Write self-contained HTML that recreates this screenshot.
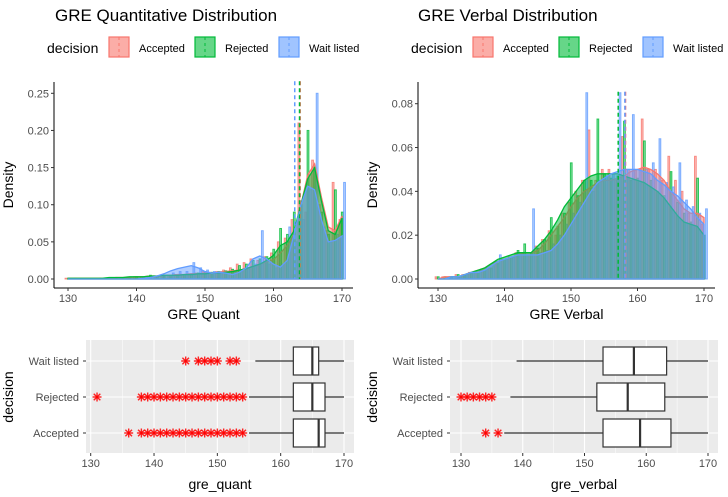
<!DOCTYPE html>
<html><head><meta charset="utf-8"><style>
body{margin:0;background:#fff}
svg{display:block;font-family:"Liberation Sans",sans-serif}
</style></head><body>
<svg id="c" width="728" height="497" viewBox="0 0 728 497"></svg>
<script>
const groups=["Accepted","Rejected","Wait listed"];
const colors=["#F8766D","#00BA38","#619CFF"];
const xs=[];for(let v=130;v<=170;v++)xs.push(v);
// quant histogram densities (130..170)
const qHistAcc=[0.001,0,0,0,0,0.001,0.001,0.001,0.002,0.002,0.003,0.003,0.004,0.004,0.005,0.005,0.006,0.006,0.007,0.008,0.01,0.009,0.01,0.012,0.015,0.02,0.022,0.027,0.025,0.03,0.035,0.05,0.055,0.08,0.21,0.09,0.16,0.1,0.065,0.13,0.08];
const qHistRej=[0,0.001,0,0,0,0,0.001,0.001,0.002,0.002,0.003,0.003,0.005,0.004,0.004,0.005,0.005,0.006,0.007,0.008,0.009,0.009,0.01,0.011,0.013,0.018,0.02,0.025,0.027,0.03,0.04,0.068,0.06,0.09,0.1,0.2,0.15,0.09,0.06,0.12,0.09];
const qHistWait=[0,0,0,0,0,0,0,0,0,0,0,0,0,0,0,0.008,0.01,0.01,0.022,0.015,0.012,0.01,0.01,0.008,0.01,0.01,0.015,0.02,0.065,0.02,0.015,0.02,0.07,0.05,0.08,0.12,0.25,0.07,0.05,0.06,0.13];
const qDensAcc=[0.001,0.001,0.001,0.001,0.001,0.001,0.001,0.002,0.002,0.002,0.003,0.003,0.004,0.004,0.005,0.005,0.006,0.006,0.007,0.007,0.008,0.008,0.009,0.01,0.011,0.012,0.014,0.017,0.02,0.023,0.026,0.035,0.045,0.06,0.1,0.14,0.155,0.11,0.07,0.065,0.085];
const qDensRej=[0.001,0.001,0.001,0.001,0.001,0.001,0.002,0.002,0.002,0.003,0.003,0.003,0.004,0.004,0.005,0.005,0.005,0.006,0.006,0.007,0.007,0.008,0.008,0.009,0.01,0.012,0.014,0.017,0.02,0.025,0.032,0.045,0.05,0.065,0.1,0.135,0.15,0.105,0.065,0.06,0.082];
const qDensWait=[0,0,0,0,0,0,0,0,0,0,0,0.001,0.002,0.004,0.007,0.011,0.014,0.016,0.018,0.015,0.01,0.008,0.009,0.008,0.006,0.009,0.015,0.027,0.031,0.027,0.02,0.016,0.025,0.06,0.1,0.125,0.12,0.08,0.05,0.052,0.058];
const qMeans=[163.9,163.8,163.1];
// verbal
const vHistAcc=[0.001,0.001,0.001,0.002,0.002,0.003,0.003,0.004,0.005,0.008,0.009,0.01,0.012,0.012,0.011,0.015,0.018,0.022,0.02,0.03,0.035,0.04,0.045,0.068,0.045,0.05,0.05,0.045,0.065,0.05,0.05,0.073,0.05,0.05,0.045,0.056,0.045,0.04,0.03,0.056,0.025];
const vHistRej=[0.001,0.001,0.001,0.002,0.002,0.003,0.003,0.004,0.005,0.007,0.009,0.01,0.013,0.016,0.012,0.014,0.018,0.028,0.024,0.03,0.053,0.038,0.045,0.045,0.073,0.048,0.046,0.047,0.072,0.045,0.046,0.063,0.045,0.04,0.038,0.049,0.035,0.03,0.026,0.046,0.02];
const vHistWait=[0,0,0,0.001,0.002,0.003,0.004,0.005,0.006,0.011,0.009,0.01,0.011,0.011,0.032,0.012,0.013,0.016,0.02,0.025,0.03,0.035,0.085,0.04,0.045,0.047,0.048,0.085,0.05,0.075,0.05,0.05,0.053,0.064,0.044,0.042,0.053,0.036,0.033,0.03,0.032];
const vDensAcc=[0,0.001,0.001,0.001,0.002,0.003,0.004,0.005,0.007,0.008,0.009,0.01,0.011,0.012,0.012,0.013,0.016,0.02,0.024,0.028,0.033,0.037,0.04,0.042,0.044,0.045,0.045,0.046,0.047,0.049,0.05,0.051,0.05,0.048,0.045,0.04,0.036,0.032,0.03,0.03,0.028];
const vDensRej=[0,0,0.001,0.001,0.002,0.003,0.004,0.005,0.007,0.009,0.01,0.011,0.012,0.012,0.012,0.015,0.018,0.022,0.027,0.033,0.037,0.041,0.045,0.047,0.048,0.048,0.048,0.048,0.047,0.046,0.045,0.044,0.042,0.04,0.037,0.033,0.029,0.026,0.025,0.024,0.02];
const vDensWait=[0,0,0.001,0.001,0.002,0.003,0.003,0.004,0.006,0.008,0.009,0.01,0.011,0.011,0.011,0.011,0.012,0.013,0.016,0.02,0.025,0.03,0.035,0.04,0.044,0.046,0.048,0.049,0.05,0.05,0.05,0.049,0.048,0.045,0.043,0.04,0.038,0.035,0.032,0.028,0.025];
const vMeans=[158.2,157.1,158.1];
// boxplots [q1, median, q3, whiskerLow, whiskerHigh]
const qBox=[[162,166,167,155,170],[162,165,167,155,170],[162,165,166,156,170]];
const qOut=[[136,138,139,140,141,142,143,144,145,146,147,148,149,150,151,152,153,154],[131,138,139,140,141,142,143,144,145,146,147,148,149,150,151,152,153,154],[145,147,148,149,150,152,153]];
const vBox=[[153,159,164,137,170],[152,157,163,138,170],[153,158,163.3,139,170]];
const vOut=[[134,136],[130,131,132,133,134,135],[]];

const S=document.getElementById('c');const NS="http://www.w3.org/2000/svg";
function el(t,a,p){const e=document.createElementNS(NS,t);for(const k in a)e.setAttribute(k,a[k]);(p||S).appendChild(e);return e;}
function txt(x,y,s,a,p){const e=el('text',Object.assign({x:x,y:y},a),p);e.textContent=s;return e;}

function hist(o){
  const g=el('g',{});
  
  
  const X=v=>o.x0+(v-130)*(o.x1-o.x0)/40;
  const Y=v=>o.y0-v*(o.y0-o.yTop)/o.ymax;
  txt(o.titleX,21,o.title,{'font-size':17,fill:'#000',},g);
  txt(o.legX,53,'decision',{'font-size':14,fill:'#000',},g);
  const lx=[o.legX+62,o.legX+148,o.legX+232], tx=[o.legX+92,o.legX+178,o.legX+262];
  groups.forEach((n,i)=>{
    const r=el('rect',{x:lx[i],y:37,width:20,height:20,fill:colors[i],'fill-opacity':0.6,stroke:colors[i],'stroke-width':1.2},g);
    
    
    el('line',{x1:lx[i]+10,x2:lx[i]+10,y1:37,y2:57,stroke:colors[i],'stroke-dasharray':'3,3'},g);
    const t=txt(tx[i],52,n,{'font-size':11,fill:'#000'},g);
    
    
  });
  const bw=(o.x1-o.x0)/40;
  o.hists.forEach((h,gi)=>{
    h.forEach((v,i)=>{
      if(v<=0)return;
      const xx=X(xs[i])-bw/2+gi*bw/3;
      const b=el('rect',{x:xx+0.5,y:Y(v),width:bw/3-0.5,height:Y(0)-Y(v),fill:colors[gi],'fill-opacity':0.45,stroke:colors[gi],'stroke-width':1,'stroke-opacity':0.8},g);
      
      
    });
  });
  o.dens.forEach((d,gi)=>{
    let pts=X(130)+','+Y(0);
    d.forEach((v,i)=>pts+=' '+X(xs[i])+','+Y(v));
    pts+=' '+X(170)+','+Y(0);
    const p=el('polygon',{points:pts,fill:colors[gi],'fill-opacity':0.5,stroke:colors[gi],'stroke-width':1.3},g);
    
    
  });
  o.means.forEach((m,gi)=>{
    const l=el('line',{x1:X(m),x2:X(m),y1:o.yTop-12,y2:o.y0,stroke:colors[gi],'stroke-width':1.5,'stroke-dasharray':'4,3'},g);
    
    
  });
  el('line',{x1:o.ax,x2:o.ax,y1:82,y2:o.axY,stroke:'#000','stroke-width':1},g);
  el('line',{x1:o.ax,x2:o.x1+11,y1:o.axY,y2:o.axY,stroke:'#000','stroke-width':1},g);
  o.yt.forEach(v=>{
    el('line',{x1:o.ax-3,x2:o.ax,y1:Y(v),y2:Y(v),stroke:'#333'},g);
    txt(o.ax-5,Y(v)+4,v.toFixed(2),{'font-size':11,fill:'#4d4d4d','text-anchor':'end'},g);
  });
  [130,140,150,160,170].forEach(v=>{
    el('line',{x1:X(v),x2:X(v),y1:o.axY,y2:o.axY+3,stroke:'#333'},g);
    txt(X(v),o.axY+14,v,{'font-size':11,fill:'#4d4d4d','text-anchor':'middle'},g);
  });
  txt((o.ax+o.x1+11)/2,o.axY+31,o.xlab,{'font-size':14,fill:'#000','text-anchor':'middle',},g);
  txt(0,0,'Density',{'font-size':14,fill:'#000','text-anchor':'middle',transform:`translate(${o.ax-41},185) rotate(-90)`,},g);
}
hist({name:'quant-histogram',title:'GRE Quantitative Distribution',titleX:55,legX:47,x0:68,x1:342,y0:279,yTop:93.3,ymax:0.25,ax:54,axY:288,yt:[0,0.05,0.1,0.15,0.2,0.25],hists:[qHistAcc,qHistRej,qHistWait],dens:[qDensAcc,qDensRej,qDensWait],means:qMeans,xlab:'GRE Quant'});
hist({name:'verbal-histogram',title:'GRE Verbal Distribution',titleX:418,legX:411,x0:438,x1:704,y0:279,yTop:103.7,ymax:0.08,ax:418,axY:288,yt:[0,0.02,0.04,0.06,0.08],hists:[vHistAcc,vHistRej,vHistWait],dens:[vDensAcc,vDensRej,vDensWait],means:vMeans,xlab:'GRE Verbal'});

function star(x,y,g){
  const s=el('g',{stroke:'#ff0000','stroke-width':1.4,'stroke-opacity':0.85},g);
  
  
  const r=4.5;
  el('line',{x1:x-r,x2:x+r,y1:y,y2:y},s);
  el('line',{x1:x,x2:x,y1:y-r,y2:y+r},s);
  el('line',{x1:x-3.3,x2:x+3.3,y1:y-3.3,y2:y+3.3},s);
  el('line',{x1:x-3.3,x2:x+3.3,y1:y+3.3,y2:y-3.3},s);
}
function box(o){
  const g=el('g',{});
  
  
  const X=v=>o.x0+(v-130)*(o.x1-o.x0)/40;
  el('rect',{x:o.px0,y:340,width:o.px1-o.px0,height:113,fill:'#EBEBEB'},g);
  [135,145,155,165].forEach(v=>el('line',{x1:X(v),x2:X(v),y1:340,y2:453,stroke:'#fff','stroke-width':0.5},g));
  [130,140,150,160,170].forEach(v=>{
    el('line',{x1:X(v),x2:X(v),y1:340,y2:453,stroke:'#fff','stroke-width':1.1},g);
    el('line',{x1:X(v),x2:X(v),y1:453,y2:456,stroke:'#333'},g);
    txt(X(v),467,v,{'font-size':11,fill:'#4d4d4d','text-anchor':'middle'},g);
  });
  const rows=[433,397,361];
  rows.forEach(y=>el('line',{x1:o.px0,x2:o.px1,y1:y,y2:y,stroke:'#fff','stroke-width':1.1},g));
  groups.forEach((n,i)=>{
    const y=rows[i];
    txt(o.px0-7,y+4,n,{'font-size':11,fill:'#4d4d4d','text-anchor':'end'},g);
    el('line',{x1:o.px0-3,x2:o.px0,y1:y,y2:y,stroke:'#333'},g);
    const b=o.box[i];
    el('line',{x1:X(b[3]),x2:X(b[0]),y1:y,y2:y,stroke:'#333','stroke-width':1.2},g);
    el('line',{x1:X(b[2]),x2:X(b[4]),y1:y,y2:y,stroke:'#333','stroke-width':1.2},g);
    const r=el('rect',{x:X(b[0]),y:y-14,width:X(b[2])-X(b[0]),height:28,fill:'#fff',stroke:'#333','stroke-width':1.2},g);
    
    
    el('line',{x1:X(b[1]),x2:X(b[1]),y1:y-14,y2:y+14,stroke:'#333','stroke-width':2.2},g);
    o.out[i].forEach(v=>star(X(v),y,g));
  });
  txt((o.px0+o.px1)/2,489,o.xlab,{'font-size':14,fill:'#000','text-anchor':'middle',},g);
  txt(0,0,'decision',{'font-size':14,fill:'#000','text-anchor':'middle',transform:`translate(${o.px0-73},397) rotate(-90)`,},g);
}
box({name:'quant-boxplot',x0:90.7,x1:344,px0:86,px1:354,box:qBox,out:qOut,xlab:'gre_quant'});
box({name:'verbal-boxplot',x0:461,x1:708,px0:450,px1:718,box:vBox,out:vOut,xlab:'gre_verbal'});
</script>
</body></html>
